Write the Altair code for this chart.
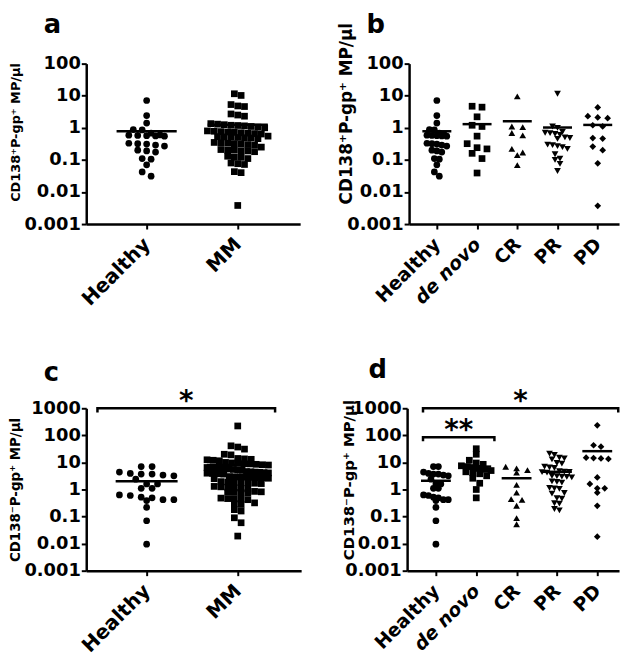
import math
import altair as alt
import pandas as pd

FONT = "DejaVu Sans"

# ---------------- data ----------------
# Panels a & b : CD138+P-gp+ MP/µl
a_healthy = [7.1, 2.4, 1.4, 0.88, 0.86, 0.68, 0.6, 0.59, 0.58, 0.57, 0.56, 0.55,
             0.33, 0.32, 0.31, 0.29, 0.27, 0.2, 0.19, 0.175, 0.11, 0.105, 0.07, 0.042, 0.031]
a_mm = [11.5, 10.2, 5.3, 4.8, 4.6, 2.7, 2.5, 2.3,
        1.35, 1.3, 1.25, 1.2, 1.18, 1.15, 1.1, 1.05, 1.0,
        0.8, 0.78, 0.76, 0.74, 0.72, 0.7, 0.68, 0.66, 0.64,
        0.55, 0.53, 0.52, 0.51, 0.5, 0.49, 0.48, 0.46,
        0.35, 0.34, 0.33, 0.32, 0.31, 0.3, 0.29, 0.25,
        0.21, 0.2, 0.2, 0.19, 0.19, 0.18,
        0.13, 0.12, 0.12, 0.11, 0.08, 0.076, 0.072, 0.043, 0.04, 0.0038]
b_denovo = [4.7, 4.4, 2.2, 1.2, 1.1, 0.55, 0.32, 0.24, 0.22, 0.16, 0.11, 0.039]
b_cr = [9.5, 1.1, 1.05, 0.69, 0.58, 0.22, 0.17, 0.14, 0.069]
b_pr = [11.5, 1.1, 1.0, 0.75, 0.7, 0.68, 0.65, 0.6, 0.5, 0.48, 0.45, 0.3, 0.29,
        0.27, 0.25, 0.22, 0.15, 0.11, 0.1, 0.075, 0.045]
b_pd = [4.3, 2.3, 2.1, 2.0, 1.2, 1.1, 0.48, 0.46, 0.26, 0.2, 0.078, 0.0037]
a_means = [0.78, 1.24]
b_means = [0.78, 1.3, 1.6, 1.02, 1.23]

# Panels c & d : CD138-P-gp+ MP/µl
c_healthy = [7.0, 7.0, 4.4, 3.9, 3.7, 3.7, 3.4, 3.2, 2.4, 1.6, 1.6, 1.1, 1.1,
             0.63, 0.6, 0.52, 0.49, 0.42, 0.42, 0.39, 0.22, 0.07, 0.0095]
c_mm = [222, 41, 37, 31, 20, 19,
        14, 13.5, 13, 12.5, 12, 11.5,
        10, 9.6, 9.3, 9, 8.8, 8.5, 8.2, 8,
        6.5, 6.3, 6.1, 6.0, 5.9, 5.7, 5.5, 5.3, 5.1,
        4.6, 4.5, 4.4, 4.3, 4.2, 4.1, 4.0, 3.9, 3.8, 3.7,
        3.0, 2.95, 2.9, 2.85, 2.8, 2.75, 2.7, 2.6, 2.5,
        1.95, 1.9, 1.85, 1.8, 1.75, 1.7, 1.65,
        1.3, 1.25, 1.2, 1.15, 1.1, 1.05,
        0.85, 0.82, 0.8, 0.78, 0.76, 0.74,
        0.48, 0.46, 0.45, 0.44, 0.42,
        0.32, 0.3, 0.28, 0.18, 0.16, 0.09, 0.059, 0.019]
d_denovo = [32, 20, 12, 9.5, 8.5, 7.5, 7, 6.5, 6, 5.5, 5, 4.5, 4.2, 3.8, 3.2, 2.6, 1.7, 1.0, 0.49]
d_cr = [6.9, 6.0, 5.2, 4.2, 1.47, 0.76, 0.44, 0.41, 0.25, 0.087, 0.052]
d_pr = [21, 19, 15, 14, 13, 9.5, 9, 7, 6.6, 6.2, 4.8, 4.6, 4.5, 4.4, 4.2, 3.2, 3.1,
        3.0, 2.9, 2.8, 2.0, 1.9, 1.8, 1.15, 1.1, 1.05, 0.74, 0.7, 0.48, 0.46, 0.31,
        0.3, 0.19, 0.17]
d_pd = [235, 43, 38, 15, 14.5, 14, 13.5, 2.8, 1.6, 1.1, 1.1, 0.76, 0.25, 0.018]
c_means = [2.0, 8.0]
d_means = [2.1, 7.0, 2.6, 4.5, 26.0]

names_2 = ["Healthy", "MM"]
names_5 = ["Healthy", "de novo", "CR", "PR", "PD"]
y_ticks_ab = [0.001, 0.01, 0.1, 1, 10, 100]
y_ticks_cd = [0.001, 0.01, 0.1, 1, 10, 100, 1000]
title_ab = "CD138\u207aP-gp\u207a MP/\u00b5l"
title_cd = "CD138\u207bP-gp\u207a MP/\u00b5l"

# marker per group (shared by all panels)
all_groups = ["Healthy", "MM", "de novo", "CR", "PR", "PD"]
all_shapes = ["circle", "square", "square", "triangle-up", "triangle-down", "diamond"]
all_sizes = [46, 46, 46, 52, 52, 40]

# significance brackets (group-position units, y level, foot level, label)
brk_c = {"x0": [-0.54], "x1": [1.41], "level": [1000], "foot": [700], "label": ["*"]}
brk_d = {"x0": [-0.32, -0.32], "x1": [4.52, 1.45], "level": [1000, 85],
         "foot": [700, 60], "label": ["*", "**"]}

# ---------------- helpers ----------------
def swarm(vals, ppd, row_px, gap_px, half_px, step_px):
    """Deterministic column-scatter layout: rows of similar values spread sideways."""
    order = sorted(range(len(vals)), key=lambda i: -vals[i])
    offs = [0.0] * len(vals)
    rows, cur, top = [], [], None
    for i in order:
        y = math.log10(vals[i]) * ppd
        if cur and top - y > row_px:
            rows.append(cur)
            cur = []
        if not cur:
            top = y
        cur.append(i)
    if cur:
        rows.append(cur)
    for r in rows:
        n = len(r)
        g = gap_px if n < 2 else min(gap_px, 2 * half_px / (n - 1))
        for k, i in enumerate(r):
            offs[i] = (k - (n - 1) / 2) * g / step_px
    return offs


def panel(letter, names, groups, means, gaps, ytitle, yticks, ydom,
          xdom, width, height, half_px, mean_hw, title_x, title_y, title_size,
          letter_x, letter_y, brackets=None, anchor=None):
    step_px = width / (xdom[1] - xdom[0])
    ppd = height / (math.log10(ydom[1]) - math.log10(ydom[0]))
    rows = []
    for gi, (name, vals) in enumerate(zip(names, groups)):
        offs = swarm(vals, ppd, 5.5, gaps[gi], half_px, step_px)
        for v, o in zip(vals, offs):
            rows.append({"group": name, "value": v, "xpos": gi + o})
    df = pd.DataFrame(rows)
    n = len(names)
    mdf = pd.DataFrame({"group": names, "mean": means,
                        "x0": [i - mean_hw for i in range(n)],
                        "x1": [i + mean_hw for i in range(n)]})

    expr = " : ".join(f"datum.value == {i} ? '{nm}'" for i, nm in enumerate(names)) + " : ''"
    style = "normal"
    if "de novo" in names:
        style = {"condition": {"test": "datum.value == 1", "value": "italic"}, "value": "normal"}
    xaxis = alt.Axis(values=list(range(n)), labelExpr=expr, title=None, grid=False,
                     labelAngle=-45, labelAlign="right", labelBaseline="middle",
                     labelPadding=12, labelFont=FONT, labelFontSize=20 if n == 2 else 19,
                     labelFontWeight="bold", labelFontStyle=style, labelColor="black",
                     labelFlush=False, labelOverlap=False, tickSize=5, tickWidth=2,
                     tickColor="black", domainColor="black", domainWidth=2.5)
    yaxis = alt.Axis(values=yticks, format="~g", title=ytitle, grid=False,
                     labelFont=FONT, labelFontSize=18, labelFontWeight="bold",
                     labelColor="black", labelPadding=1, labelFlush=False,
                     labelOverlap=False, tickSize=5, tickWidth=2, tickColor="black",
                     domainColor="black", domainWidth=2.5, titleFont=FONT,
                     titleFontSize=title_size, titleFontWeight="bold", titleColor="black",
                     titleX=title_x, titleY=title_y)
    xs = alt.Scale(domain=xdom, nice=False, zero=False)
    ys = alt.Scale(type="log", domain=ydom, nice=False)

    pts = alt.Chart(df).mark_point(filled=True, opacity=1, color="black", strokeWidth=0).encode(
        x=alt.X("xpos:Q", scale=xs, axis=xaxis),
        y=alt.Y("value:Q", scale=ys, axis=yaxis),
        shape=alt.Shape("group:N", scale=alt.Scale(domain=all_groups, range=all_shapes), legend=None),
        size=alt.Size("group:N", scale=alt.Scale(domain=all_groups, range=all_sizes), legend=None),
    )
    mlines = alt.Chart(mdf).mark_rule(color="black", strokeWidth=2.5).encode(
        x=alt.X("x0:Q", scale=xs, axis=xaxis), x2="x1:Q",
        y=alt.Y("mean:Q", scale=ys, axis=yaxis))
    layers = [pts, mlines]

    if brackets:
        brows, srows = [], []
        for b in range(len(brackets["x0"])):
            x0, x1 = brackets["x0"][b], brackets["x1"][b]
            lv, ft = brackets["level"][b], brackets["foot"][b]
            for k, (bx, by) in enumerate([(x0, ft), (x0, lv), (x1, lv), (x1, ft)]):
                brows.append({"bid": b, "k": k, "bx": bx, "by": by})
            srows.append({"mid": (x0 + x1) / 2, "level": lv, "label": brackets["label"][b]})
        bl = alt.Chart(pd.DataFrame(brows)).mark_line(color="black", strokeWidth=2.5).encode(
            x=alt.X("bx:Q", scale=xs, axis=xaxis), y=alt.Y("by:Q", scale=ys, axis=yaxis),
            detail="bid:N", order="k:O")
        st = alt.Chart(pd.DataFrame(srows)).mark_text(
            font=FONT, fontSize=28, fontWeight="bold", color="black",
            baseline="alphabetic", dy=2).encode(
            x=alt.X("mid:Q", scale=xs, axis=xaxis), y=alt.Y("level:Q", scale=ys, axis=yaxis),
            text="label:N")
        layers += [bl, st]

    lt = alt.Chart(pd.DataFrame({"t": [letter]})).mark_text(
        font=FONT, fontSize=26, fontWeight="bold", color="black", align="left",
        baseline="alphabetic").encode(text="t:N", x=alt.value(letter_x), y=alt.value(letter_y))
    layers.append(lt)
    if anchor:
        an = alt.Chart(pd.DataFrame({"t": [0]})).mark_point(
            size=1, opacity=0, filled=True).encode(x=alt.value(anchor[0]), y=alt.value(anchor[1]))
        layers.append(an)
    return alt.layer(*layers).properties(width=width, height=height)


pa = panel("a", names_2, [a_healthy, a_mm], a_means, [9, 6.8],
           title_ab, y_ticks_ab, [0.001, 100], [-0.663, 1.685], 216, 162, 31, 0.33,
           -64, 69, 13, -43, -31, anchor=(-78, -52))
pb = panel("b", names_5, [a_healthy, b_denovo, b_cr, b_pr, b_pd], b_means,
           [5, 10, 11, 5, 10],
           title_ab, y_ticks_ab, [0.001, 100], [-0.69, 4.53], 212, 162, 14, 0.36,
           -54, 50, 17, -43, -31)
pc = panel("c", names_2, [c_healthy, c_mm], c_means, [11, 6.8],
           title_cd, y_ticks_cd, [0.001, 1000], [-0.663, 1.696], 217, 164, 31, 0.34,
           -64, 82, 13.5, -43, -28, brackets=brk_c)
pd_ = panel("d", names_5, [c_healthy, d_denovo, d_cr, d_pr, d_pd], d_means,
            [5, 7, 11, 5, 7.5],
            title_cd, y_ticks_cd, [0.001, 1000], [-0.714, 4.54], 214, 164, 15, 0.37,
            -51, 72, 15, -39, -31, brackets=brk_d)

top = alt.hconcat(pa, pb, spacing=110, bounds="flush")
bottom = alt.hconcat(pc, pd_, spacing=107, bounds="flush")
# nested concat groups have no flush size of their own, so the row spacing is
# measured from the top of row one to the top of row two
chart = alt.vconcat(top, bottom, spacing=348, bounds="flush").properties(
    padding=0).configure_view(stroke=None)

chart.save("out.html", embed_options={"renderer": "svg", "actions": False})
